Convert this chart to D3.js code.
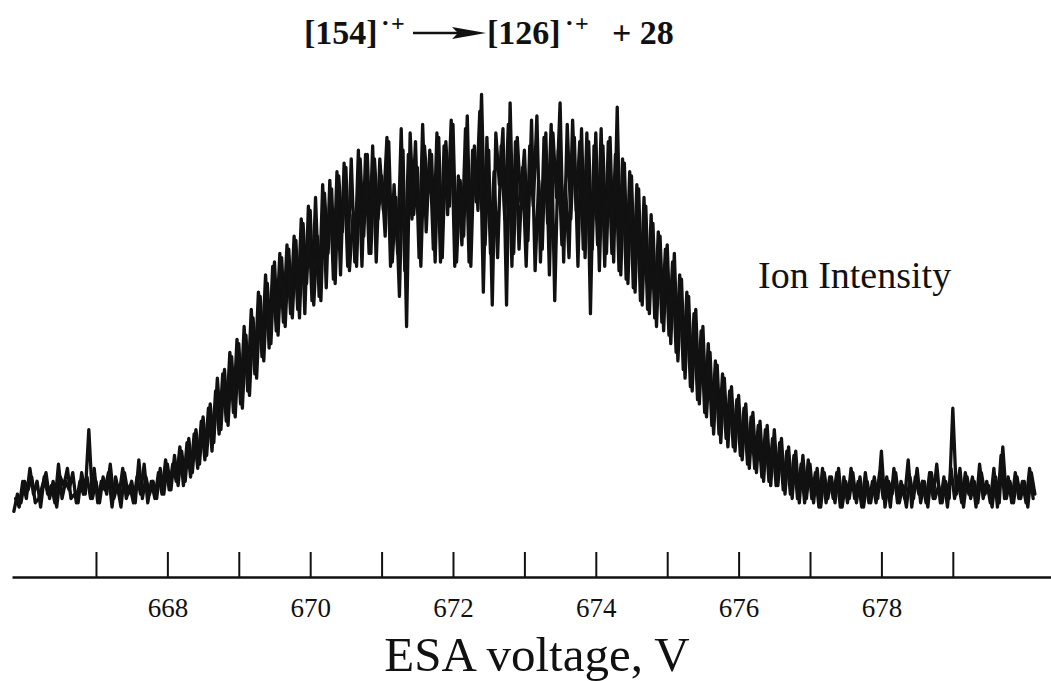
<!DOCTYPE html>
<html>
<head>
<meta charset="utf-8">
<script src="https://cdn.jsdelivr.net/npm/d3@7"></script>
<style>
  html, body { margin: 0; padding: 0; background: #fff; }
  svg { display: block; }
</style>
</head>
<body>
<svg id="chart" width="1051" height="681"></svg>
<script>
// Two overlaid ESA scans of the metastable [154]·+ → [126]·+ + 28 fragmentation.
// Ion intensity in arbitrary units, one reading every 0.05 V.
const scanStep = 0.05;

const scanAStart = 665.85;
const scanA = [
  2, 6, 4, 9, 7, 10, 4, 5, 8, 11, 5, 9, 3, 10, 8, 12, 5, 6, 4, 11,
  6, 21, 5, 9, 4, 10, 6, 13, 5, 8, 3, 11, 6, 9, 4, 14, 5, 10, 6, 9,
  5, 12, 6, 13, 7, 15, 8, 16, 9, 19, 11, 21, 13, 24, 15, 27, 18, 33, 21, 35,
  22, 38, 24, 41, 26, 43, 29, 47, 33, 52, 37, 55, 41, 60, 43, 61, 45, 63, 47, 65,
  47, 69, 55, 72, 50, 66, 51, 76, 62, 77, 55, 80, 67, 82, 58, 71, 59, 84, 66, 85,
  62, 84, 70, 80, 66, 88, 60, 75, 52, 86, 45, 90, 71, 82, 59, 87, 76, 85, 60, 89,
  61, 88, 73, 92, 60, 79, 66, 94, 59, 87, 72, 99, 64, 86, 50, 90, 78, 91, 50, 97,
  62, 89, 74, 86, 65, 93, 58, 79, 63, 90, 57, 90, 75, 97, 60, 92, 70, 89, 59, 91,
  61, 88, 63, 90, 58, 87, 62, 89, 60, 96, 57, 83, 55, 80, 53, 77, 50, 73, 48, 69,
  45, 66, 44, 64, 41, 62, 37, 56, 33, 52, 30, 49, 27, 45, 24, 39, 20, 36, 18, 33,
  17, 31, 16, 29, 14, 27, 12, 25, 11, 23, 9, 22, 8, 21, 8, 19, 6, 17, 5, 16,
  4, 15, 5, 13, 4, 12, 3, 11, 5, 10, 4, 12, 3, 9, 5, 11, 4, 10, 3, 9,
  4, 10, 5, 16, 3, 9, 6, 11, 4, 8, 3, 10, 5, 12, 4, 9, 3, 11, 5, 8,
  4, 9, 5, 26, 6, 12, 3, 10, 5, 9, 4, 11, 6, 8, 3, 10, 4, 17, 5, 9,
  4, 10, 5, 9, 3, 11, 6
];

const scanBStart = 665.875;
const scanB = [
  5, 3, 9, 5, 12, 6, 9, 3, 10, 6, 8, 4, 13, 5, 9, 7, 11, 4, 9, 6,
  10, 5, 12, 4, 9, 7, 11, 3, 10, 6, 12, 5, 8, 4, 10, 6, 13, 4, 9, 5,
  11, 6, 14, 7, 13, 9, 17, 8, 18, 10, 20, 12, 23, 14, 26, 16, 30, 20, 34, 23,
  39, 25, 42, 27, 45, 30, 49, 34, 53, 38, 57, 40, 59, 44, 62, 46, 64, 48, 66, 49,
  70, 48, 73, 51, 75, 52, 78, 54, 79, 56, 81, 57, 83, 59, 84, 60, 86, 59, 85, 62,
  87, 60, 84, 72, 89, 59, 78, 62, 91, 58, 85, 70, 88, 61, 92, 67, 86, 63, 90, 60,
  87, 71, 93, 59, 80, 64, 91, 60, 86, 74, 95, 53, 89, 62, 81, 61, 87, 70, 92, 59,
  88, 63, 82, 59, 87, 73, 94, 60, 89, 69, 92, 51, 86, 64, 78, 61, 93, 72, 88, 63,
  90, 48, 87, 64, 91, 59, 88, 62, 85, 58, 84, 56, 81, 54, 78, 51, 75, 49, 71, 47,
  67, 46, 63, 43, 60, 39, 57, 35, 53, 31, 48, 28, 44, 25, 41, 22, 37, 20, 34, 19,
  30, 17, 28, 15, 26, 13, 24, 12, 22, 10, 21, 9, 19, 8, 18, 7, 16, 6, 15, 5,
  13, 4, 14, 5, 11, 3, 12, 4, 10, 5, 11, 3, 10, 4, 12, 5, 9, 3, 11, 4,
  9, 4, 11, 5, 10, 3, 12, 4, 9, 5, 14, 3, 10, 6, 9, 4, 11, 5, 13, 4,
  10, 3, 12, 5, 9, 4, 11, 6, 10, 3, 13, 5, 9, 4, 12, 3, 15, 5, 10, 4,
  11, 5, 9, 4, 12, 5
];

// Voltage axis
const voltageTicks = [667, 668, 669, 670, 671, 672, 673, 674, 675, 676, 677, 678, 679];
const voltageLabels = [668, 670, 672, 674, 676, 678];

const serif = "'Liberation Serif', 'Times New Roman', Times, serif";
const ink = "#111";

const svg = d3.select("#chart");

const x = d3.scaleLinear().domain([665.824, 680.375]).range([12, 1051]);
const y = d3.scaleLinear().domain([0, 100]).range([520, 90]);

function drawScan(values, start) {
  const line = d3.line()
    .x((d, i) => x(start + i * scanStep))
    .y(d => y(d));
  svg.append("path")
    .datum(values)
    .attr("d", line)
    .attr("fill", "none")
    .attr("stroke", ink)
    .attr("stroke-width", 3.3)
    .attr("stroke-linejoin", "round")
    .attr("stroke-linecap", "round");
}
drawScan(scanA, scanAStart);
drawScan(scanB, scanBStart);

// Axis with upward ticks, only even voltages labelled
const axis = d3.axisBottom(x)
  .tickValues(voltageTicks)
  .tickSizeInner(-25)
  .tickSizeOuter(0)
  .tickPadding(21)
  .tickFormat(d => voltageLabels.includes(d) ? String(d) : "");

const gAxis = svg.append("g")
  .attr("transform", "translate(0,577)")
  .call(axis);
gAxis.select(".domain").attr("stroke", ink).attr("stroke-width", 2.6);
gAxis.selectAll(".tick line").attr("stroke", ink).attr("stroke-width", 2);
gAxis.selectAll(".tick text")
  .attr("fill", ink)
  .attr("font-family", serif)
  .attr("font-size", 27);

// Axis title
svg.append("text")
  .attr("x", 537).attr("y", 671)
  .attr("text-anchor", "middle")
  .attr("font-family", serif)
  .attr("font-size", 49)
  .attr("fill", ink)
  .text("ESA voltage, V");

// Trace label
svg.append("text")
  .attr("x", 758).attr("y", 288)
  .attr("font-family", serif)
  .attr("font-size", 38)
  .attr("fill", ink)
  .text("Ion Intensity");

// Reaction title: [154]·+ ──► [126]·+ + 28
const title = svg.append("g")
  .attr("font-family", serif)
  .attr("font-weight", "bold")
  .attr("fill", ink);

title.append("text").attr("x", 304).attr("y", 44).attr("font-size", 34).text("[154]");
title.append("text").attr("x", 381).attr("y", 31).attr("font-size", 26).text("·");
title.append("text").attr("x", 391).attr("y", 31).attr("font-size", 24).text("+");
title.append("line")
  .attr("x1", 413).attr("x2", 462).attr("y1", 33).attr("y2", 33)
  .attr("stroke", ink).attr("stroke-width", 2.4);
title.append("path")
  .attr("d", "M452,27 L486,33 L452,39 L458,33 Z")
  .attr("fill", ink);
title.append("text").attr("x", 487).attr("y", 44).attr("font-size", 34).text("[126]");
title.append("text").attr("x", 565).attr("y", 31).attr("font-size", 26).text("·");
title.append("text").attr("x", 575).attr("y", 31).attr("font-size", 24).text("+");
title.append("text").attr("x", 612).attr("y", 44).attr("font-size", 34).text("+ 28");
</script>
</body>
</html>
